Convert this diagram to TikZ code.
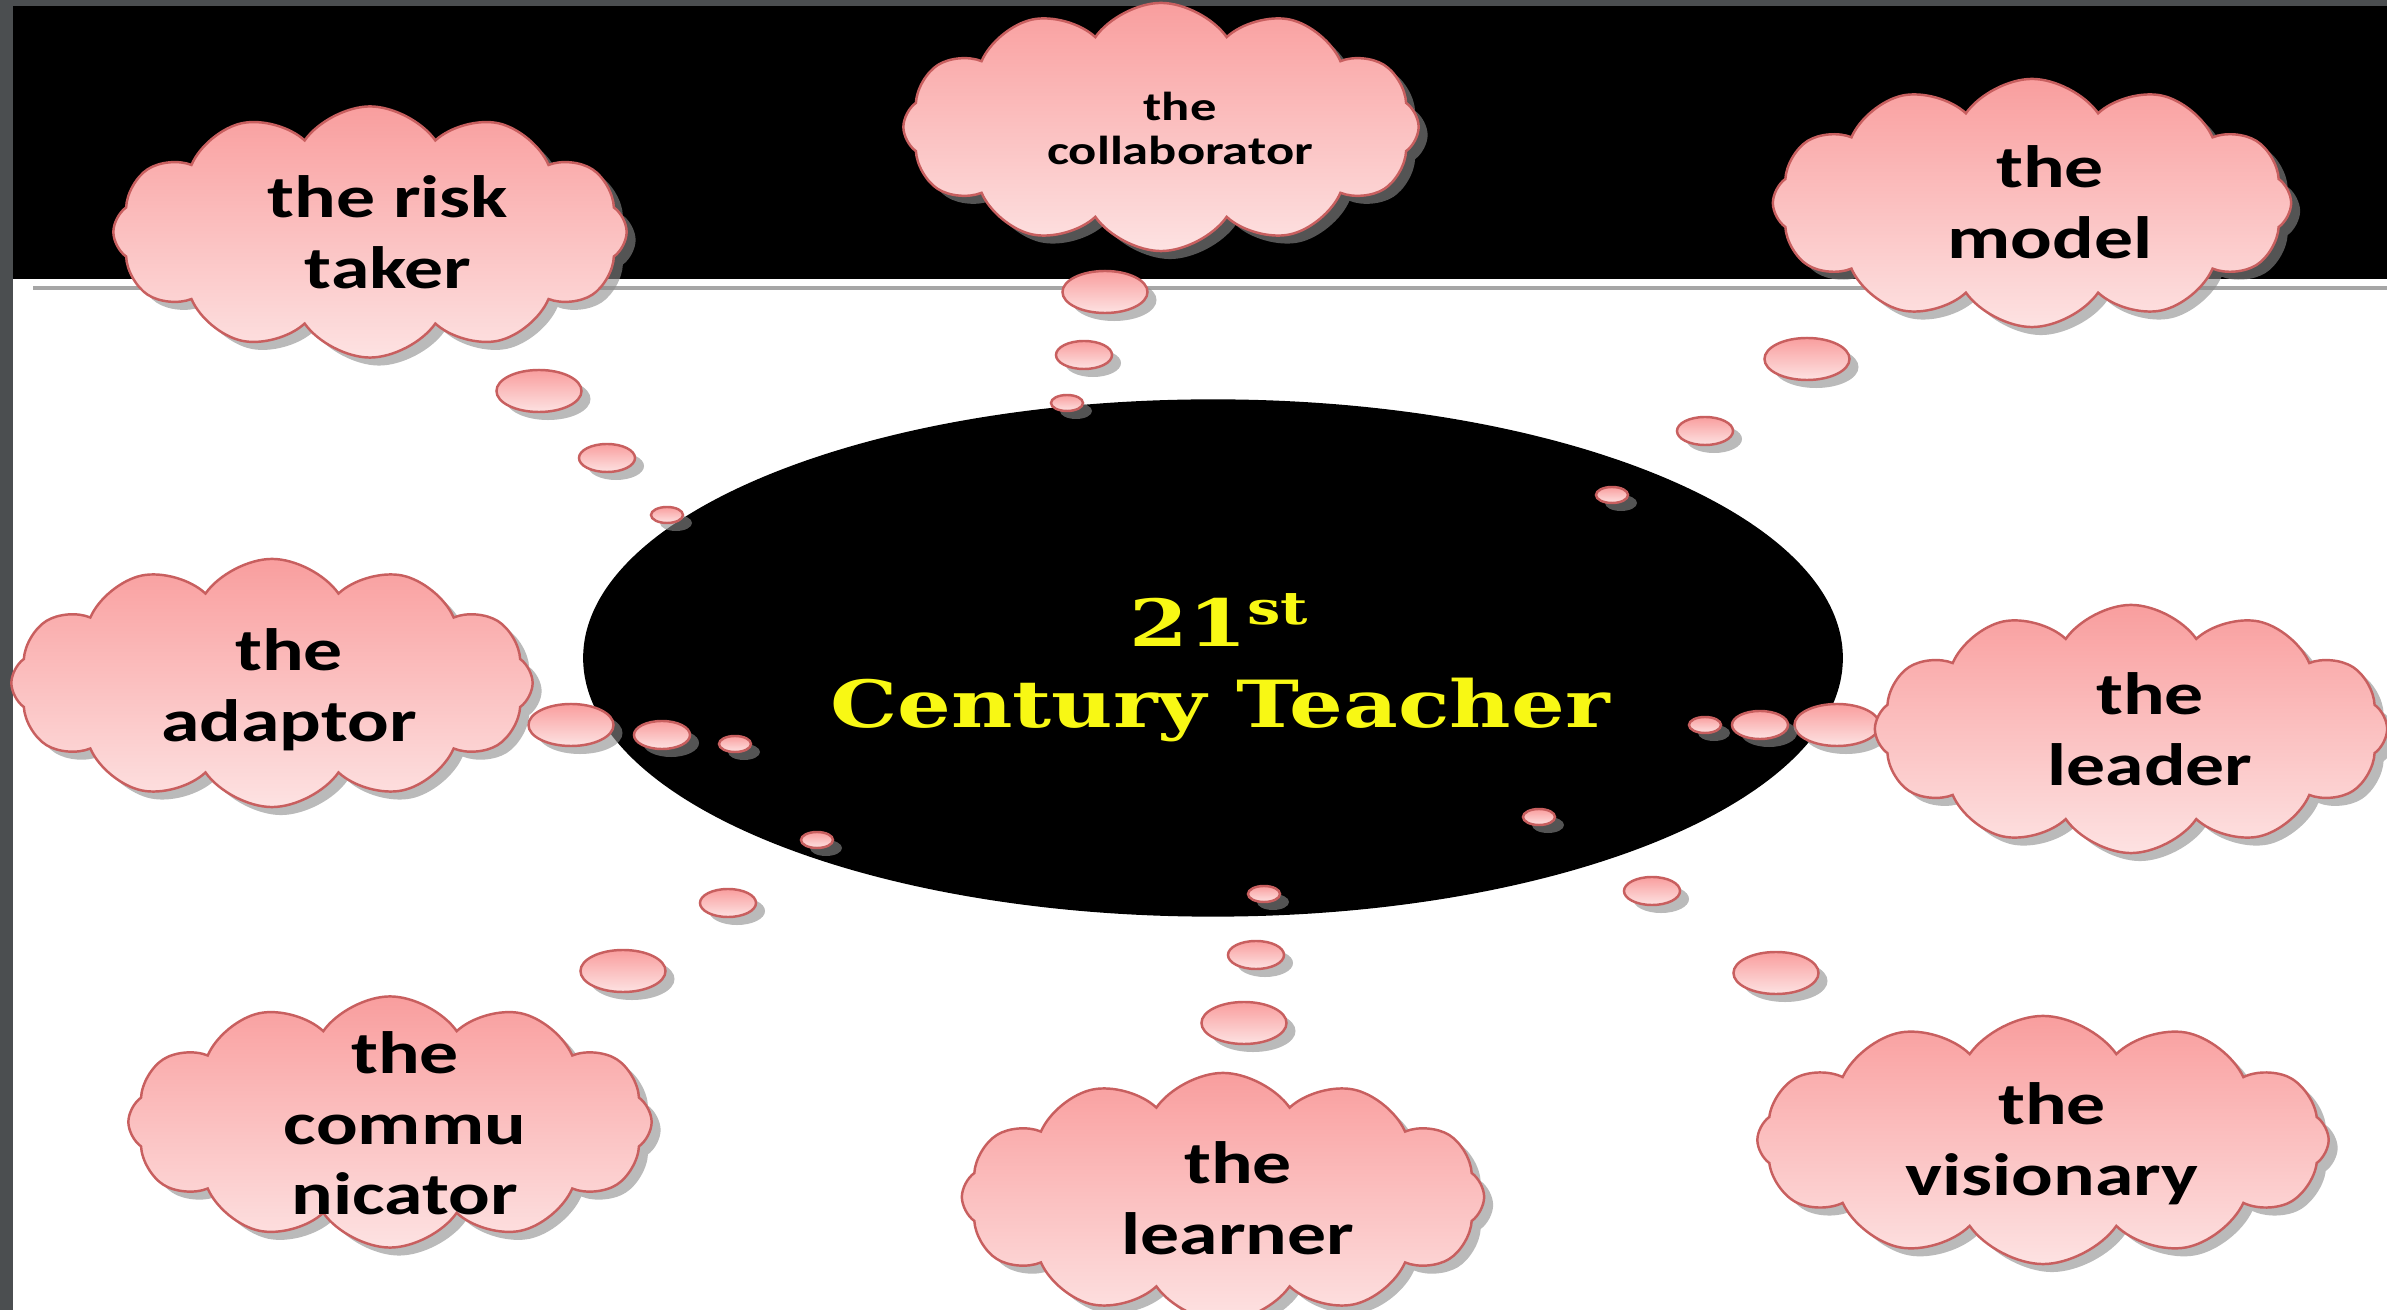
\documentclass[tikz,border=0pt]{standalone}
\usepackage{fontspec}
\usepackage{graphicx}
\usetikzlibrary{shapes.symbols,shapes.geometric,shadows}
\newfontfamily\calfont{Carlito}
\newfontfamily\titlefont{DejaVu Serif}
\definecolor{puffline}{RGB}{200,95,95}
\definecolor{pufftop}{RGB}{249,158,158}
\definecolor{puffbot}{RGB}{253,226,226}
\definecolor{titleyellow}{RGB}{248,248,20}
\definecolor{framegray}{RGB}{75,78,80}
\newcommand{\stretchtxt}[1]{\scalebox{1.3}[1]{\begin{tabular}{@{}c@{}}#1\end{tabular}}}
\begin{document}
\begin{tikzpicture}[x=0.01cm,y=-0.01cm,
  puffshade/.style={top color=pufftop,bottom color=puffbot,draw=puffline,line width=0.7pt,
     drop shadow={shadow xshift=0.09cm,shadow yshift=-0.08cm,fill=black!45,opacity=0.6}},
  thought/.style={puffshade,cloud,cloud puffs=12,cloud puff arc=110,inner sep=0pt,minimum width=5.15cm,minimum height=2.48cm},
  bubL/.style={puffshade,ellipse,inner sep=0pt,minimum width=0.85cm,minimum height=0.42cm},
  bubM/.style={puffshade,ellipse,inner sep=0pt,minimum width=0.56cm,minimum height=0.28cm},
  bubS/.style={puffshade,ellipse,inner sep=0pt,minimum width=0.32cm,minimum height=0.16cm},
  cloudtxt/.style={font=\calfont\bfseries\fontsize{17}{20}\selectfont,text=black,inner sep=0pt},
  smalltxt/.style={font=\calfont\bfseries\fontsize{11.5}{12.5}\selectfont,text=black,inner sep=0pt},
]
\useasboundingbox (0,0) rectangle (2387,1310);
% frame and background
\fill[framegray] (0,0) rectangle (2387,1310);
\fill[white] (13,6) rectangle (2387,1310);
\fill[black] (13,6) rectangle (2387,279);
\draw[gray!70,line width=0.9pt] (33,288) -- (2387,288);

% central ellipse
\node[ellipse,fill=black,minimum width=12.59cm,minimum height=5.17cm,inner sep=0pt] (core) at (1213,658) {};
\node[font=\titlefont\bfseries\fontsize{18.5}{23}\selectfont,text=titleyellow,inner sep=0pt] (title) at (1220,671)
  {\stretchtxt{21\textsuperscript{st}\\Century Teacher}};

% bubbles
\node[bubL] (r1) at (539,391) {};
\node[bubM] (r2) at (607,458) {};
\node[bubS] (r3) at (667,515) {};
\node[bubL] (k1) at (1105,292) {};
\node[bubM] (k2) at (1084,355) {};
\node[bubS] (k3) at (1067,403) {};
\node[bubL] (m1) at (1807,359) {};
\node[bubM] (m2) at (1705,431) {};
\node[bubS] (m3) at (1612,495) {};
\node[bubL] (a1) at (571,725) {};
\node[bubM] (a2) at (662,735) {};
\node[bubS] (a3) at (735,744) {};
\node[bubL] (l1) at (1837,725) {};
\node[bubM] (l2) at (1760,725) {};
\node[bubS] (l3) at (1705,725) {};
\node[bubL] (c1) at (623,971) {};
\node[bubM] (c2) at (728,903) {};
\node[bubS] (c3) at (817,840) {};
\node[bubL] (n1) at (1244,1023) {};
\node[bubM] (n2) at (1256,955) {};
\node[bubS] (n3) at (1264,894) {};
\node[bubL] (v1) at (1776,973) {};
\node[bubM] (v2) at (1652,891) {};
\node[bubS] (v3) at (1539,817) {};

% clouds
\node[thought,minimum width=5.13cm,minimum height=2.51cm] (risk) at (370,232) {};
\node[cloudtxt] (risktxt) at (388,239) {\stretchtxt{the risk\\taker}};
\node[thought] (collab) at (1161,127) {};
\node[smalltxt] (collabtxt) at (1180,134) {\stretchtxt{the\\collaborator}};
\node[thought,minimum width=5.18cm] (model) at (2032,203) {};
\node[cloudtxt] (modeltxt) at (2050,209) {\stretchtxt{the\\model}};
\node[thought,minimum width=5.21cm] (adapt) at (272,683) {};
\node[cloudtxt] (adapttxt) at (289,692) {\stretchtxt{the\\adaptor}};
\node[thought,minimum width=5.12cm] (lead) at (2131,729) {};
\node[cloudtxt] (leadtxt) at (2150,736) {\stretchtxt{the\\leader}};
\node[thought,minimum width=5.23cm,minimum height=2.51cm] (comm) at (390,1122) {};
\node[cloudtxt] (commtxt) at (405,1130) {\stretchtxt{the\\commu\\nicator}};
\node[thought,minimum width=5.22cm] (learn) at (1223,1197) {};
\node[cloudtxt] (learntxt) at (1238,1205) {\stretchtxt{the\\learner}};
\node[thought,minimum width=5.71cm] (vision) at (2043,1140) {};
\node[cloudtxt] (visiontxt) at (2052,1146) {\stretchtxt{the\\visionary}};
\end{tikzpicture}
\end{document}
